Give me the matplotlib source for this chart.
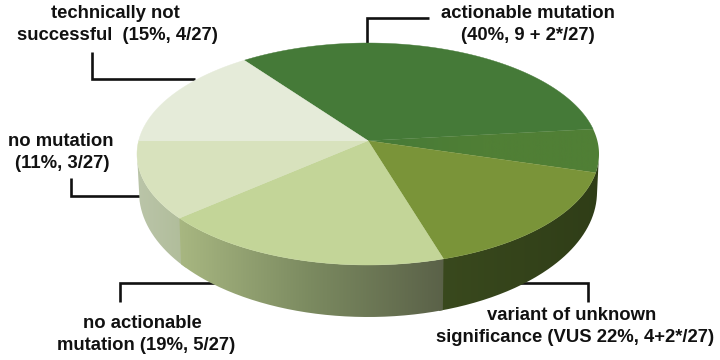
#!/usr/bin/env python3
import matplotlib

matplotlib.use("Agg")
import matplotlib.pyplot as plt
import numpy as np
from matplotlib.colors import LinearSegmentedColormap
from matplotlib.patches import PathPatch, Polygon
from matplotlib.path import Path

# slice shares (percent of the rim), clockwise
slice_names = ["actionable", "actionable*", "vus", "no actionable", "no mutation", "not successful"]
slice_shares = [30.4, 6.3, 17.0, 20.5, 11.7, 14.1]
slice_colors = ["#457a38", "#507f35", "#7a9439", "#c3d598", "#d8e2bd", "#e5ebd9"]
start_angle = 122.4

labels = [
    ("technically not", 115, 14),
    ("successful  (15%, 4/27)", 117, 36),
    ("no mutation", 61, 141),
    ("(11%, 3/27)", 62, 164),
    ("no actionable", 142, 323),
    ("mutation (19%, 5/27)", 146, 345),
    ("actionable mutation", 528, 14),
    ("(40%, 9 + 2*/27)", 528, 36),
    ("variant of unknown", 572, 315),
    ("significance (VUS 22%, 4+2*/27)", 575, 337),
]
leaders = [
    ([92, 92, 195], [52, 79, 79]),
    ([71, 71, 145], [178, 196, 196]),
    ([120, 120, 215], [302, 283, 283]),
    ([367, 367, 429], [45, 18, 18]),
    ([520, 588, 588], [283, 283, 302]),
]

CX, CY, RX, RY = 368, 154, 231, 111
APEX = (368, 140.7)
BCX, BCY, BRX, BRY = 368, 192, 229, 125


def rim(a0, a1, n=120):
    t = np.radians(np.linspace(a0, a1, n))
    return np.column_stack([CX + RX * np.cos(t), CY - RY * np.sin(t)])


def base(a0, a1, n=120):
    t = np.radians(np.linspace(a0, a1, n))
    return np.column_stack([BCX + BRX * np.cos(t), BCY - BRY * np.sin(t)])


def gradient_fill(ax, pts, colors, x0, x1, zorder):
    patch = PathPatch(Path(np.vstack([pts, pts[0]])), fc="none", ec="none", zorder=zorder)
    ax.add_patch(patch)
    cmap = LinearSegmentedColormap.from_list("s", colors)
    im = ax.imshow(np.linspace(0, 1, 256)[None, :], cmap=cmap, extent=(x0, x1, 330, 40),
                   aspect="auto", zorder=zorder)
    im.set_clip_path(patch)


fig = plt.figure(figsize=(7.2, 3.6), dpi=100)
ax = fig.add_axes([0, 0, 1, 1])

for xs, ys in leaders:
    ax.plot(xs, ys, color="#111111", lw=1.9, solid_joinstyle="miter", solid_capstyle="butt", zorder=1)

# side wall, pieces overlap a little so no seam shows
edges = start_angle - np.cumsum([0] + slice_shares) * 3.6
left_pts = np.vstack([rim(edges[4] + 2, -180), base(-180, edges[4] + 2)])
gradient_fill(ax, left_pts, ["#aebb97", "#bcc6ab"], 195, 130, 3)
right_pts = np.vstack([rim(0, edges[3] - 1), base(edges[3] - 1, 0)])
gradient_fill(ax, right_pts, ["#3a4a1e", "#2f3d17"], 430, 605, 3)
mid_pts = np.vstack([rim(edges[3], edges[4]), base(edges[4], edges[3])])
gradient_fill(ax, mid_pts, ["#5a6148", "#7b8a60", "#a9b882"], 445, 176, 3.1)

# top face
for i, name in enumerate(slice_names):
    pts = np.vstack([[APEX], rim(edges[i], edges[i + 1])])
    if name == "actionable*":
        gradient_fill(ax, pts, [slice_colors[0], slice_colors[i], slice_colors[i]], 360, 605, 4)
    else:
        ax.add_patch(Polygon(pts, closed=True, fc=slice_colors[i], ec=slice_colors[i], lw=0.3, zorder=4))

for txt, x, y in labels:
    ax.text(x, y, txt, ha="center", va="center", fontsize=13.3, fontweight="bold",
            family="Liberation Sans", color="#111111", zorder=5)

ax.set_xlim(0, 720)
ax.set_ylim(360, 0)
ax.axis("off")
fig.savefig("out.png", dpi=100, facecolor="white")
